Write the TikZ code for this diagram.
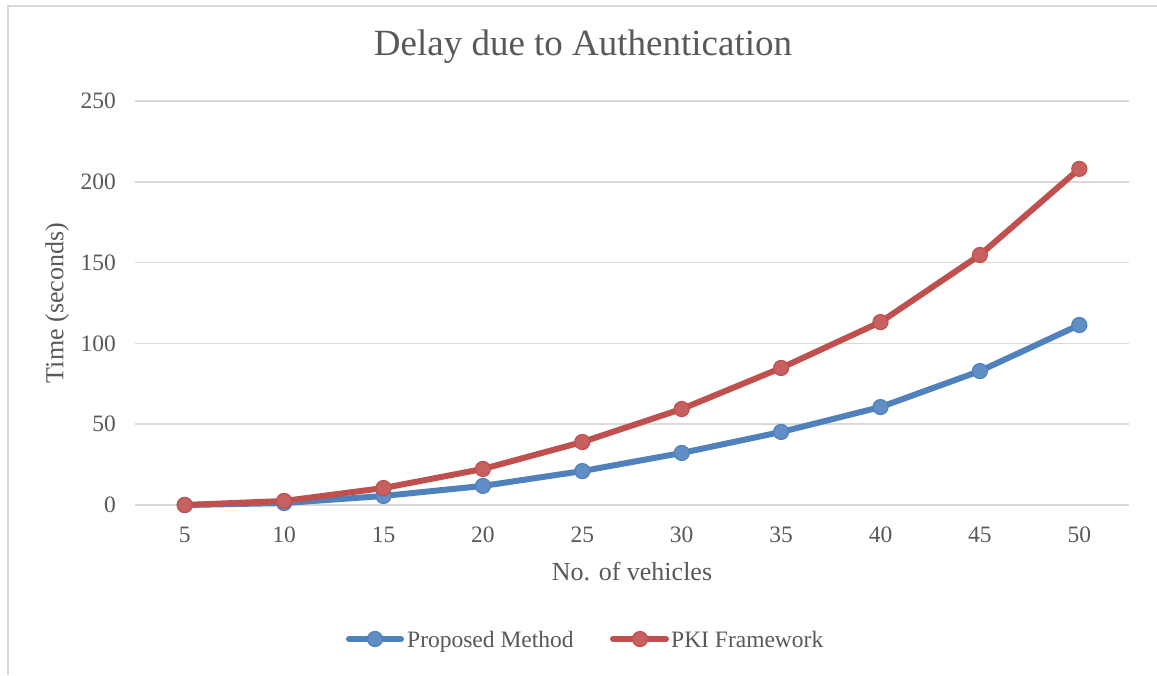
\documentclass[tikz,border=0pt]{standalone}
\usepackage{fontspec}
\setmainfont{Liberation Serif}
\definecolor{txt}{HTML}{595959}
\definecolor{gridc}{HTML}{D9D9D9}
\definecolor{serA}{HTML}{4F81BD}
\definecolor{serB}{HTML}{C0504D}
\tikzset{
  gridline/.style={draw=gridc, line width=1.5pt},
  ticklbl/.style={text=txt, font=\fontsize{23.5}{26}\selectfont, inner sep=0pt},
  axtitle/.style={text=txt, font=\fontsize{26}{30}\selectfont, inner sep=0pt},
  serline/.style={line width=6pt, line join=round, line cap=round},
  markA/.style={circle, minimum size=15pt, inner sep=0pt, fill=serA!90!white, draw=serA, line width=1.2pt},
  markB/.style={circle, minimum size=15pt, inner sep=0pt, fill=serB!90!white, draw=serB, line width=1.2pt},
}
\begin{document}
\begin{tikzpicture}[x=1pt, y=-1pt]
\useasboundingbox (0,0) rectangle (1157,675);
\fill[white] (0,0) rectangle (1157,675);
% chart frame (left and top edges)
\draw[draw=gridc, line width=2pt] (8,675) -- (8,6) -- (1157,6);
% title
\node[text=txt, font=\fontsize{37}{40}\selectfont, inner sep=0pt] (title) at (583,47) {Delay due to Authentication};
% horizontal gridlines and value labels
\foreach \v in {0,50,100,150,200,250}{
  \draw[gridline] (135,{505-1.616*\v}) -- (1129,{505-1.616*\v});
  \node[ticklbl, anchor=east] (y\v) at (116,{505-1.616*\v}) {\v};
}
% category labels
\foreach \i/\l in {0/5,1/10,2/15,3/20,4/25,5/30,6/35,7/40,8/45,9/50}{
  \node[ticklbl] (x\l) at ({184.7+99.4*\i},535) {\l};
}
% axis titles
\node[axtitle] (xt) at (632,572) {No. of vehicles};
\node[axtitle, rotate=90] (yt) at (57,303) {Time (seconds)};
% data series (x: category index, y: seconds)
\begin{scope}[shift={(184.7,505)}, x=99.4pt, y=1.616pt]
  \draw[serA, serline] plot coordinates {(0,0) (1,1.2) (2,5.6) (3,11.8) (4,21) (5,32.2) (6,45.2) (7,60.6) (8,82.9) (9,111.4)};
  \foreach \p/\q [count=\k] in {0/0,1/1.2,2/5.6,3/11.8,4/21,5/32.2,6/45.2,7/60.6,8/82.9,9/111.4}
    \node[markA] (a\k) at (\p,\q) {};
  \draw[serB, serline] plot coordinates {(0,0) (1,2.5) (2,10.5) (3,22.3) (4,39) (5,59.4) (6,84.8) (7,113.2) (8,154.7) (9,208)};
  \foreach \p/\q [count=\k] in {0/0,1/2.5,2/10.5,3/22.3,4/39,5/59.4,6/84.8,7/113.2,8/154.7,9/208}
    \node[markB] (b\k) at (\p,\q) {};
\end{scope}
% legend
\coordinate (la1) at (349,639); \coordinate (la2) at (401,639);
\draw[serA, serline] (la1) -- (la2);
\node[markA] (lam) at (375,639) {};
\node[ticklbl, anchor=base west] (lat) at (407,647) {Proposed Method};
\coordinate (lb1) at (613,639); \coordinate (lb2) at (666,639);
\draw[serB, serline] (lb1) -- (lb2);
\node[markB] (lbm) at (640,639) {};
\node[ticklbl, anchor=base west] (lbt) at (671,647) {PKI Framework};
\end{tikzpicture}
\end{document}
